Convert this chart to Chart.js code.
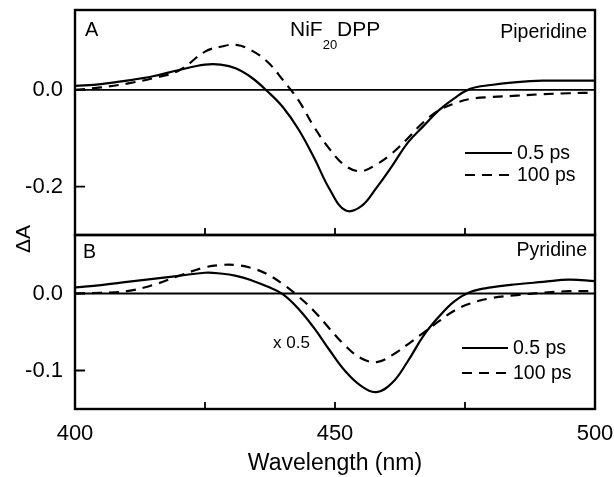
<!DOCTYPE html>
<html><head><meta charset="utf-8">
<script src="https://cdn.jsdelivr.net/npm/chart.js@4"></script>
<style>
html,body{margin:0;padding:0;background:#fff;}
#wrap{position:relative;width:614px;height:477px;background:#fff;}
canvas{position:absolute;left:0;top:0;}
</style></head><body>
<div id="wrap"><canvas id="cA" width="614" height="477"></canvas><canvas id="cB" width="614" height="477"></canvas></div>
<script>
// Wavelength grid (nm)
const wavelengths = [400,405,410,415,420,425,428,431,434,437,440,443,446,449,452,455,458,461,464,467,470,473,476,480,485,490,495,500];
// Panel A: Piperidine
const piperidine05ps  = [0.008,0.012,0.019,0.028,0.041,0.052,0.052,0.044,0.025,-0.003,-0.036,-0.082,-0.141,-0.206,-0.249,-0.241,-0.202,-0.157,-0.109,-0.075,-0.042,-0.017,0.002,0.010,0.016,0.019,0.019,0.019];
const piperidine100ps = [0.000,0.005,0.013,0.024,0.040,0.079,0.089,0.093,0.081,0.058,0.020,-0.022,-0.077,-0.123,-0.157,-0.168,-0.154,-0.131,-0.100,-0.067,-0.042,-0.028,-0.019,-0.015,-0.012,-0.009,-0.007,-0.006];
// Panel B: Pyridine
const pyridine05ps  = [0.008,0.011,0.015,0.019,0.023,0.027,0.026,0.023,0.017,0.009,-0.001,-0.020,-0.045,-0.074,-0.101,-0.120,-0.128,-0.116,-0.088,-0.055,-0.030,-0.010,0.002,0.008,0.012,0.015,0.018,0.016];
const pyridine100ps = [0.000,0.001,0.003,0.011,0.023,0.034,0.037,0.037,0.033,0.025,0.012,-0.004,-0.023,-0.046,-0.068,-0.084,-0.089,-0.080,-0.066,-0.051,-0.036,-0.022,-0.013,-0.006,-0.002,0.001,0.003,0.003];

const seriesLabels = ['0.5 ps','100 ps'];
const xTicks = [400,425,450,475,500];
const xTickLabels = [400,450,500];
const yTicksA = [0,-0.2];
const yTicksB = [0,-0.1];

const FONT = "'Liberation Sans', Arial, sans-serif";
const DASH = [10,7];

function pts(ys){ return wavelengths.map((x,i)=>({x:x,y:ys[i]})); }

function mkDatasets(solid, dashed){
  return [
    {label:seriesLabels[0], data:pts(solid), borderColor:'#000', borderWidth:2.2, pointRadius:0, tension:0.4, fill:false},
    {label:seriesLabels[1], data:pts(dashed), borderColor:'#000', borderWidth:2.2, borderDash:DASH, pointRadius:0, tension:0.4, fill:false}
  ];
}

function zeroPad(s){ s.paddingTop=0; s.paddingBottom=0; s.paddingLeft=0; s.paddingRight=0; }

function framePlugin(cfg){
  return {
    id:'frame_'+cfg.id,
    beforeDatasetsDraw(chart){
      const ctx = chart.ctx, a = chart.chartArea, ys = chart.scales.y;
      const y0 = ys.getPixelForValue(0);
      ctx.save();
      ctx.strokeStyle='#000'; ctx.lineWidth=1.8;
      ctx.beginPath(); ctx.moveTo(a.left,y0); ctx.lineTo(a.right,y0); ctx.stroke();
      ctx.restore();
    },
    afterDraw(chart){
      const ctx = chart.ctx, a = chart.chartArea, xs = chart.scales.x, ys = chart.scales.y;
      ctx.save();
      ctx.strokeStyle='#000'; ctx.lineWidth=2.4;
      ctx.strokeRect(a.left, a.top, a.right-a.left, a.bottom-a.top);
      ctx.lineWidth=1.8;
      ctx.beginPath();
      xs.ticks.forEach(t=>{ const x = xs.getPixelForValue(t.value); ctx.moveTo(x,a.bottom); ctx.lineTo(x,a.bottom-7); });
      ys.ticks.forEach(t=>{ const y = ys.getPixelForValue(t.value); ctx.moveTo(a.left,y); ctx.lineTo(a.left+10,y); });
      ctx.stroke();
      // legend
      ctx.fillStyle='#000';
      ctx.font = '19.5px '+FONT;
      ctx.textBaseline='middle'; ctx.textAlign='left';
      chart.data.datasets.forEach((ds,i)=>{
        const ly = cfg.legendY[i];
        ctx.save();
        ctx.lineWidth=2.2;
        ctx.setLineDash(ds.borderDash||[]);
        ctx.beginPath(); ctx.moveTo(cfg.legendX0, ly); ctx.lineTo(cfg.legendX1, ly); ctx.stroke();
        ctx.restore();
        ctx.fillText(ds.label, cfg.legendX1+5, ly+1);
      });
      // texts
      ctx.textBaseline='alphabetic';
      cfg.texts.forEach(t=>{
        ctx.font = t.size+'px '+FONT;
        ctx.textAlign = t.align||'left';
        ctx.fillText(t.s, t.x, t.y);
      });
      if (cfg.extra) cfg.extra(ctx);
      ctx.restore();
    }
  };
}

function yAxis(min,max,ticks){
  return {
    type:'linear', min:min, max:max,
    afterFit(s){ s.width = 75; zeroPad(s); },
    afterBuildTicks(s){ s.ticks = ticks.map(v=>({value:v})); },
    grid:{display:false, drawTicks:false},
    border:{display:false},
    ticks:{color:'#000', font:{family:FONT, size:22}, padding:12, callback:(v)=>Number(v).toFixed(1)}
  };
}

new Chart(document.getElementById('cA'), {
  type:'line',
  data:{datasets:mkDatasets(piperidine05ps, piperidine100ps)},
  options:{
    responsive:false, animation:false, devicePixelRatio:1,
    layout:{padding:{left:0, top:10, right:19, bottom:242}},
    plugins:{legend:{display:false}, tooltip:{enabled:false}},
    scales:{
      x:{type:'linear', min:400, max:500,
         afterFit(s){ s.height = 0; zeroPad(s); },
         afterBuildTicks(s){ s.ticks = xTicks.map(v=>({value:v})); },
         grid:{display:false, drawTicks:false}, border:{display:false}, ticks:{display:false}},
      y:yAxis(-0.3, 0.165, yTicksA)
    }
  },
  plugins:[framePlugin({
    id:'A', legendX0:465, legendX1:512, legendY:[153,175],
    texts:[
      {s:'A', x:85, y:36, size:20},
      {s:'Piperidine', x:587, y:38, size:19.5, align:'right'}
    ],
    extra(ctx){
      let x = 290;
      ctx.textAlign='left';
      ctx.font='21px '+FONT; ctx.fillText('NiF', x, 36); x += ctx.measureText('NiF').width;
      ctx.font='13px '+FONT; ctx.fillText('20', x, 49); x += ctx.measureText('20').width;
      ctx.font='21px '+FONT; ctx.fillText('DPP', x, 36);
    }
  })]
});

new Chart(document.getElementById('cB'), {
  type:'line',
  data:{datasets:mkDatasets(pyridine05ps, pyridine100ps)},
  options:{
    responsive:false, animation:false, devicePixelRatio:1,
    layout:{padding:{left:0, top:235, right:19, bottom:0}},
    plugins:{legend:{display:false}, tooltip:{enabled:false}},
    scales:{
      x:{type:'linear', min:400, max:500,
         afterFit(s){ s.height = 68; zeroPad(s); },
         afterBuildTicks(s){ s.ticks = xTicks.map(v=>({value:v})); },
         grid:{display:false, drawTicks:false}, border:{display:false},
         ticks:{color:'#000', font:{family:FONT, size:22}, padding:12, maxRotation:0, autoSkip:false,
                callback:(v)=> xTickLabels.includes(v) ? String(v) : ''},
         title:{display:true, text:'Wavelength (nm)', color:'#000', font:{family:FONT, size:23}, padding:{top:0,bottom:0}}},
      y:yAxis(-0.15, 0.076, yTicksB)
    }
  },
  plugins:[framePlugin({
    id:'B', legendX0:462, legendX1:508, legendY:[348,373],
    texts:[
      {s:'B', x:83, y:258, size:19.5},
      {s:'Pyridine', x:587, y:256, size:19.5, align:'right'},
      {s:'x 0.5', x:273, y:348, size:17}
    ],
    extra(ctx){
      ctx.save();
      ctx.translate(24, 239);
      ctx.rotate(-Math.PI/2);
      ctx.font='21px '+FONT; ctx.textAlign='center'; ctx.textBaseline='middle';
      ctx.fillText('\u0394A', 0, 0);
      ctx.restore();
    }
  })]
});
</script>
</body></html>
